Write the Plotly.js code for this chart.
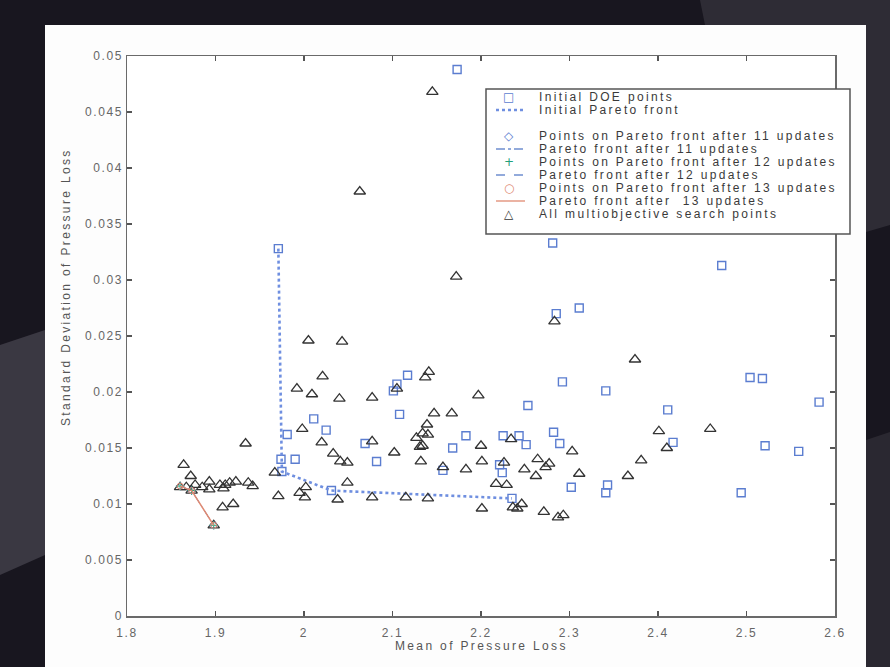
<!DOCTYPE html>
<html><head><meta charset="utf-8">
<script src="https://cdn.plot.ly/plotly-3.0.1.min.js"></script>
<style>
html,body{margin:0;padding:0;width:890px;height:667px;overflow:hidden;background:#18161f;}
.bgA{position:absolute;left:0;top:0;width:890px;height:667px;background:#2e2c35;clip-path:polygon(700px 0,890px 0,890px 225px,866px 232px,866px 25px,705px 25px);}
.bgB{position:absolute;left:0;top:0;width:890px;height:667px;background:#3a3842;clip-path:polygon(0 345px,45px 330px,45px 555px,0 575px);}
.bgC{position:absolute;left:0;top:0;width:890px;height:667px;background:#2a2831;clip-path:polygon(866px 440px,890px 432px,890px 667px,866px 667px);}
#chart{position:absolute;left:45px;top:25px;width:821px;height:642px;}
text{letter-spacing:2.35px;}
.xtick text,.ytick text{letter-spacing:1.6px;}
</style></head>
<body>
<div class="bgA"></div><div class="bgB"></div><div class="bgC"></div>
<div id="chart"></div>
<script>
// ---- data ----
var doeX = [2.173,1.971,2.281,2.472,2.285,2.311,2.292,2.341,2.504,2.518,2.582,2.411,2.253,2.117,2.105,2.101,2.108,2.011,2.025,1.981,1.974,1.990,1.975,2.031,2.069,2.082,2.168,2.183,2.157,2.225,2.243,2.251,2.282,2.289,2.221,2.224,2.302,2.343,2.341,2.235,2.417,2.521,2.559,2.494];
var doeY = [0.0488,0.0328,0.0333,0.0313,0.0270,0.0275,0.0209,0.0201,0.0213,0.0212,0.0191,0.0184,0.0188,0.0215,0.0207,0.0201,0.0180,0.0176,0.0166,0.0162,0.0140,0.0140,0.0129,0.0112,0.0154,0.0138,0.0150,0.0161,0.0130,0.0161,0.0161,0.0153,0.0164,0.0154,0.0135,0.0128,0.0115,0.0117,0.0110,0.0105,0.0155,0.0152,0.0147,0.0110];

var searchX = [2.145,2.063,2.172,2.283,2.374,
  2.401,2.410,2.381,2.366,2.459,
  2.197,2.200,2.201,2.183,2.234,2.226,2.249,2.264,2.262,2.273,2.277,2.303,2.311,2.217,2.229,2.201,2.236,2.246,2.241,2.271,2.287,2.293,
  2.005,2.043,2.021,1.992,2.009,2.040,2.077,2.105,2.141,2.137,2.147,2.167,1.998,2.020,2.033,2.041,2.049,2.077,2.102,2.132,2.127,2.134,2.139,2.140,2.131,2.134,2.157,2.049,2.002,1.995,2.001,2.038,2.077,2.115,2.140,
  1.934,1.864,1.872,1.860,1.867,1.877,1.893,1.885,1.893,1.905,1.911,1.916,1.923,1.909,1.937,1.942,1.873,1.908,1.920,1.898,1.967,1.971];
var searchY = [0.0468,0.0379,0.0303,0.0263,0.0229,
  0.0165,0.0150,0.0139,0.0125,0.0167,
  0.0197,0.0152,0.0138,0.0131,0.0158,0.0137,0.0131,0.0140,0.0125,0.0133,0.0136,0.0147,0.0127,0.0118,0.0117,0.0096,0.0097,0.0100,0.0096,0.0093,0.0088,0.0090,
  0.0246,0.0245,0.0214,0.0203,0.0198,0.0194,0.0195,0.0203,0.0218,0.0213,0.0181,0.0181,0.0167,0.0155,0.0145,0.0138,0.0137,0.0156,0.0146,0.0138,0.0159,0.0163,0.0171,0.0162,0.0151,0.0152,0.0133,0.0119,0.0115,0.0110,0.0106,0.0104,0.0106,0.0106,0.0105,
  0.0154,0.0135,0.0125,0.0115,0.0115,0.0117,0.0120,0.0115,0.0113,0.0117,0.0117,0.0119,0.0120,0.0114,0.0119,0.0116,0.0112,0.0097,0.0100,0.0081,0.0128,0.0107];

var paretoInitX = [1.971,1.975,2.031,2.235];
var paretoInitY = [0.0328,0.0129,0.0112,0.0105];
var pareto11X = [1.860,1.873,1.898];
var pareto11Y = [0.0116,0.0112,0.0081];
var pareto12X = [1.860,1.873,1.898];
var pareto12Y = [0.0116,0.0112,0.0081];
var pareto13X = [1.860,1.873,1.898];
var pareto13Y = [0.0116,0.0112,0.0081];

var xTicks = [1.8,1.9,2.0,2.1,2.2,2.3,2.4,2.5,2.6];
var xTickText = ['1.8','1.9','2','2.1','2.2','2.3','2.4','2.5','2.6'];
var yTicks = [0,0.005,0.01,0.015,0.02,0.025,0.03,0.035,0.04,0.045,0.05];
var yTickText = ['0','0.005','0.01','0.015','0.02','0.025','0.03','0.035','0.04','0.045','0.05'];

var legendLabels = ['Initial DOE points','Initial Pareto front','','Points on Pareto front after 11 updates','Pareto front after 11 updates','Points on Pareto front after 12 updates','Pareto front after 12 updates','Points on Pareto front after 13 updates','Pareto front after  13 updates','All multiobjective search points'];
var legendGlyphs = ['\u25A1',null,null,'\u25C7',null,'+',null,'\u25CB',null,'\u25B3'];
var legendDashes = [null,'dot',null,null,'dashdot',null,'dash',null,'solid',null];

// ---- styles ----
var cBlue = '#5b7dd0', cDot = '#6f8fe0', cGreen = '#22a07a', cRed = '#e08a72', cTri = '#333333';
var glyphColors = [cBlue,null,null,cBlue,null,cGreen,null,cRed,null,cTri];
var lineColors = [null,cDot,null,null,'#6f8fd0',null,'#6f8fd0',null,cRed,null];
var fontFam = 'Liberation Sans, Arial, sans-serif';

var traces = [
  {x: doeX, y: doeY, mode:'markers', type:'scatter', name:'Initial DOE points',
   marker:{symbol:'square-open', size:8, color:cBlue, line:{width:1.4}}},
  {x: paretoInitX, y: paretoInitY, mode:'lines', type:'scatter', name:'Initial Pareto front',
   line:{color:cDot, width:2.6, dash:'dot'}},
  {x: searchX, y: searchY, mode:'markers', type:'scatter', name:'All multiobjective search points',
   marker:{symbol:'triangle-up-open', size:10, color:cTri, line:{width:1.3}}},
  {x: pareto11X, y: pareto11Y, mode:'lines+markers', type:'scatter', name:'Pareto front after 11 updates',
   line:{color:'#6f8fd0', width:1, dash:'dashdot'}, marker:{symbol:'diamond-open', size:6, color:cBlue}},
  {x: pareto12X, y: pareto12Y, mode:'lines+markers', type:'scatter', name:'Pareto front after 12 updates',
   line:{color:'#6f8fd0', width:1, dash:'dash'}, marker:{symbol:'cross-thin-open', size:6, color:cGreen, line:{width:1, color:cGreen}}},
  {x: pareto13X, y: pareto13Y, mode:'lines+markers', type:'scatter', name:'Pareto front after 13 updates',
   line:{color:cRed, width:1.5}, marker:{symbol:'circle-open', size:6, color:cRed}}
];

// plot area pixel geometry (relative to chart div)
var W = 821, H = 642, mL = 82, mR = 31, mT = 31, mB = 51;
var pw = W - mL - mR, ph = H - mT - mB;
function px2x(p){ return (p - 45 - mL) / pw; }
function px2y(p){ return (H - mB - (p - 25)) / ph; }

var shapes = [];
var annotations = [];
// legend box
shapes.push({type:'rect', xref:'paper', yref:'paper', x0:px2x(486), x1:px2x(850), y0:px2y(234), y1:px2y(89),
  fillcolor:'#ffffff', line:{color:'#555555', width:1.5}, layer:'above'});
var rowY = [97,110,123,136,149,162,175,188,201,214];
for (var i = 0; i < legendLabels.length; i++) {
  if (legendLabels[i]) {
    annotations.push({xref:'paper', yref:'paper', x:px2x(537), y:px2y(rowY[i]), xanchor:'left', yanchor:'middle',
      text:legendLabels[i], showarrow:false, font:{family:fontFam, size:12, color:'#3a3a3a'}});
  }
  if (legendGlyphs[i]) {
    annotations.push({xref:'paper', yref:'paper', x:px2x(510), y:px2y(rowY[i]), xanchor:'center', yanchor:'middle',
      text:legendGlyphs[i], showarrow:false, font:{family:'DejaVu Sans', size:12, color:glyphColors[i]}});
  }
  if (legendDashes[i]) {
    shapes.push({type:'line', xref:'paper', yref:'paper', x0:px2x(496), x1:px2x(525), y0:px2y(rowY[i]), y1:px2y(rowY[i]),
      line:{color:lineColors[i], width: legendDashes[i]==='dot' ? 2.4 : 1.3, dash:legendDashes[i]}, layer:'above'});
  }
}
// axis titles
annotations.push({xref:'paper', yref:'paper', x:0.5, y:px2y(646), xanchor:'center', yanchor:'middle', showarrow:false,
  text:'Mean of Pressure Loss', font:{family:fontFam, size:12, color:'#555'}});
annotations.push({xref:'paper', yref:'paper', x:px2x(66), y:px2y(287), xanchor:'center', yanchor:'middle', showarrow:false,
  textangle:-90, text:'Standard Deviation of Pressure Loss', font:{family:fontFam, size:12, color:'#555'}});

var axisCommon = {showgrid:false, zeroline:false, showline:true, linecolor:'#6a6a6a', linewidth:1.5,
  ticks:'inside', ticklen:5, tickwidth:1.2, tickcolor:'#555', mirror:'ticks',
  tickfont:{family:fontFam, size:12, color:'#666'}};

var layout = {
  width: W, height: H,
  margin:{l:mL, r:mR, t:mT, b:mB, pad:0},
  paper_bgcolor:'#fdfdfd', plot_bgcolor:'#ffffff',
  showlegend:false,
  xaxis: Object.assign({}, axisCommon, {range:[1.8,2.6], tickmode:'array', tickvals:xTicks, ticktext:xTickText, ticklabelstandoff:5}),
  yaxis: Object.assign({}, axisCommon, {range:[0,0.05], tickmode:'array', tickvals:yTicks, ticktext:yTickText}),
  shapes: shapes,
  annotations: annotations
};

Plotly.newPlot('chart', traces, layout, {displayModeBar:false, staticPlot:true});
</script>
</body></html>
